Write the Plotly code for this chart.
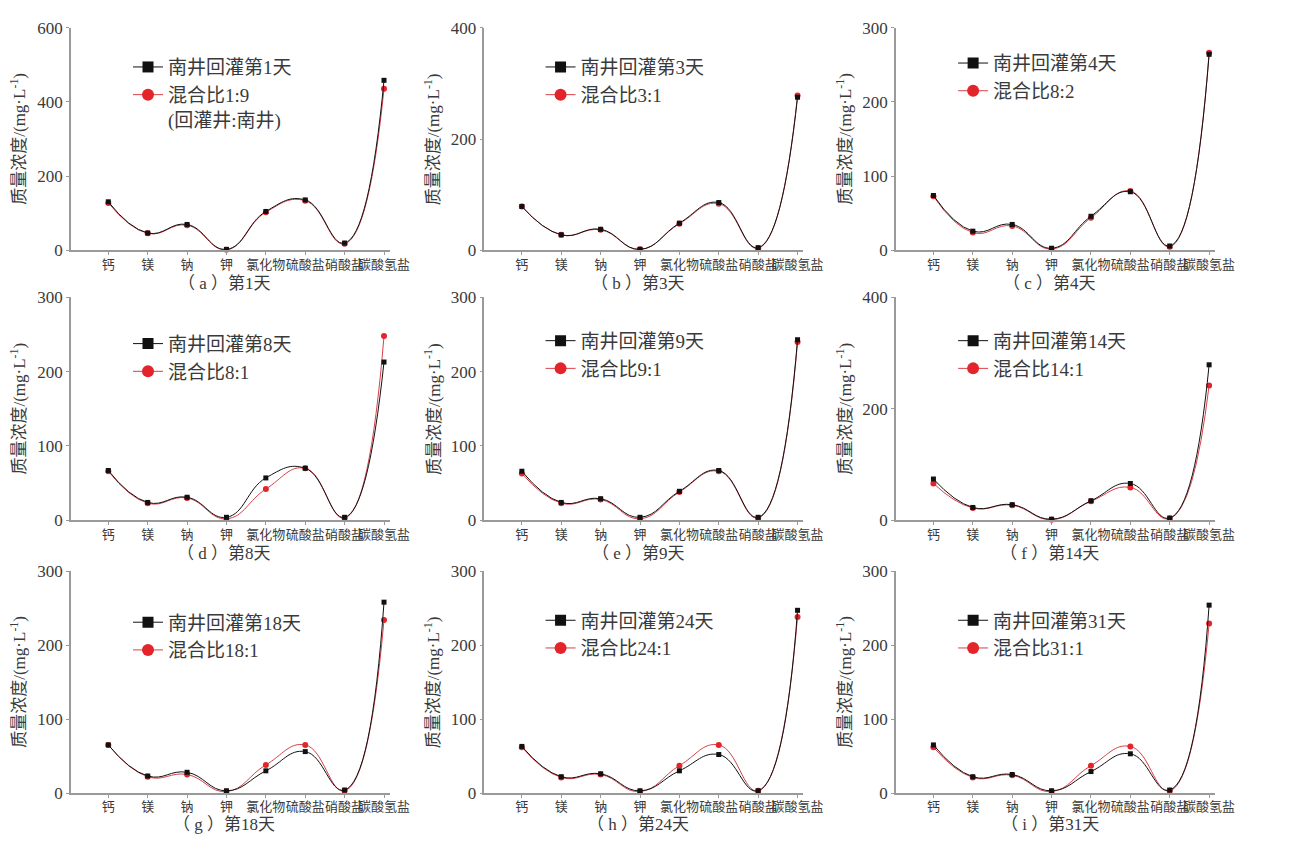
import plotly.graph_objects as go

# ---------------- data ----------------
categories = ["钙", "镁", "钠", "钾", "氯化物", "硫酸盐", "硝酸盐", "碳酸氢盐"]

panel_tags = ["a", "b", "c", "d", "e", "f", "g", "h", "i"]
days = [1, 3, 4, 8, 9, 14, 18, 24, 31]
mix_labels = ["混合比1:9<br>(回灌井:南井)", "混合比3:1", "混合比8:2", "混合比8:1", "混合比9:1",
              "混合比14:1", "混合比18:1", "混合比24:1", "混合比31:1"]
y_max = [600, 400, 300, 300, 300, 400, 300, 300, 300]
y_step = [200, 200, 100, 100, 100, 200, 100, 100, 100]

south_a = [131, 47, 70, 3, 105, 136, 20, 458]
mix_a = [128, 46, 68, 2, 103, 134, 18, 435]
south_b = [79, 28, 38, 2, 49, 86, 5, 275]
mix_b = [79, 28, 37, 2, 48, 84, 4, 278]
south_c = [74, 26, 35, 3, 46, 79, 6, 264]
mix_c = [73, 24, 33, 2, 44, 80, 5, 266]
south_d = [67, 24, 31, 4, 57, 70, 4, 213]
mix_d = [66, 23, 30, 2, 42, 70, 3, 248]
south_e = [66, 24, 29, 4, 39, 67, 4, 243]
mix_e = [63, 23, 28, 2, 38, 66, 3, 240]
south_f = [74, 23, 28, 2, 35, 66, 4, 279]
mix_f = [66, 22, 27, 1, 34, 59, 3, 242]
south_g = [65, 23, 28, 3, 30, 56, 4, 258]
mix_g = [65, 22, 25, 2, 38, 65, 3, 234]
south_h = [63, 22, 26, 3, 30, 52, 3, 247]
mix_h = [62, 21, 25, 2, 37, 65, 3, 238]
south_i = [65, 22, 25, 3, 29, 53, 4, 254]
mix_i = [62, 21, 24, 2, 37, 63, 3, 229]

south_all = [south_a, south_b, south_c, south_d, south_e, south_f, south_g, south_h, south_i]
mix_all = [mix_a, mix_b, mix_c, mix_d, mix_e, mix_f, mix_g, mix_h, mix_i]

# ---------------- style / layout ----------------
W, H = 1301, 847
FONT = "Liberation Serif, Noto Sans CJK SC, serif"
TXT = "#3a3a3a"
AX = "#9a9a9a"
RED = "#e3242b"
REDLINE = "#d9404a"
BLK = "#111111"

col_left = [72, 492, 910]
plot_w = 324
row_top = [19, 295, 575]
row_bot = [247, 523, 802]
ytitle_x = [18, 439, 857]
legend_left = [130, 549, 968]
legend_top = [[40, 40, 36], [323, 320, 320], [608, 606, 606]]
caption_y = [281, 557, 834]

fig = go.Figure()
xs = list(range(len(categories)))
annotations = []
layout = dict(width=W, height=H, margin=dict(l=0, r=0, t=0, b=0),
              paper_bgcolor="white", plot_bgcolor="white",
              font=dict(family=FONT, color=TXT), showlegend=True)

for k in range(9):
    r, c = divmod(k, 3)
    sfx = "" if k == 0 else str(k + 1)
    xa, ya = "x" + sfx, "y" + sfx
    leg = "legend" if k == 0 else "legend%d" % (k + 1)

    # data traces
    fig.add_trace(go.Scatter(
        x=xs, y=mix_all[k], mode="lines+markers", name=mix_labels[k],
        line=dict(color=REDLINE, width=1, shape="spline", smoothing=1.3),
        marker=dict(symbol="circle", size=6, color=RED),
        xaxis=xa, yaxis=ya, showlegend=False, cliponaxis=False))
    fig.add_trace(go.Scatter(
        x=xs, y=south_all[k], mode="lines+markers", name="南井回灌第%d天" % days[k],
        line=dict(color=BLK, width=1, shape="spline", smoothing=1.3),
        marker=dict(symbol="square", size=5, color=BLK),
        xaxis=xa, yaxis=ya, showlegend=False, cliponaxis=False))
    # legend entries (larger symbols, thin lines)
    fig.add_trace(go.Scatter(
        x=[None], y=[None], mode="lines+markers", name="南井回灌第%d天" % days[k],
        line=dict(color=BLK, width=1), marker=dict(symbol="square", size=11, color=BLK),
        xaxis=xa, yaxis=ya, legend=leg, legendrank=1))
    fig.add_trace(go.Scatter(
        x=[None], y=[None], mode="lines+markers", name=mix_labels[k],
        line=dict(color=REDLINE, width=1), marker=dict(symbol="circle", size=12, color=RED),
        xaxis=xa, yaxis=ya, legend=leg, legendrank=2))

    x0 = col_left[c] / W
    x1 = (col_left[c] + plot_w) / W
    layout["xaxis" + sfx] = dict(
        domain=[x0, x1], anchor=ya, range=[-0.95, 7.15],
        tickmode="array", tickvals=xs, ticktext=categories,
        showline=True, linecolor=AX, linewidth=1.5, ticks="outside", ticklen=3,
        tickcolor=AX, showgrid=False, zeroline=False, ticklabelstandoff=-2,
        tickfont=dict(size=13, family=FONT, color=TXT), tickangle=0)
    layout["yaxis" + sfx] = dict(
        domain=[1 - row_bot[r] / H, 1 - row_top[r] / H], anchor=xa,
        range=[0, y_max[k]], dtick=y_step[k], tick0=0,
        showline=True, linecolor=AX, linewidth=1.5, ticks="outside", ticklen=3,
        tickcolor=AX, showgrid=False, zeroline=False,
        tickfont=dict(size=17, family=FONT, color=TXT))
    layout[leg] = dict(
        x=legend_left[c] / W, y=1 - legend_top[r][c] / H, xanchor="left", yanchor="top",
        bgcolor="rgba(0,0,0,0)", font=dict(size=19, family=FONT, color=TXT),
        valign="top", tracegroupgap=0, traceorder="normal")

    annotations.append(dict(
        text="（ %s ）第%d天" % (panel_tags[k], days[k]), xref="paper", yref="paper",
        x=(col_left[c] + plot_w / 2 - 6) / W, y=1 - caption_y[r] / H,
        xanchor="center", yanchor="middle", showarrow=False,
        font=dict(size=17, family=FONT, color=TXT)))
    annotations.append(dict(
        text="质量浓度/(mg·L<sup>-1</sup>)", xref="paper", yref="paper",
        x=ytitle_x[c] / W, y=1 - (row_top[r] + row_bot[r]) / 2 / H,
        xanchor="center", yanchor="middle", textangle=-90, showarrow=False,
        font=dict(size=17, family=FONT, color=TXT)))

layout["annotations"] = annotations
fig.update_layout(**layout)
fig.write_html("out.html")
